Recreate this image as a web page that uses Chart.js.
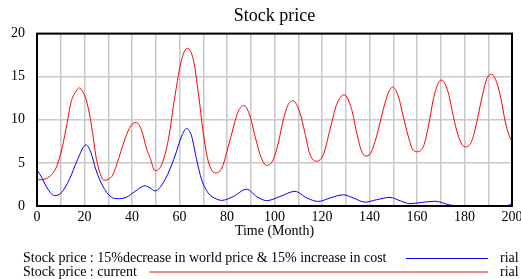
<!DOCTYPE html>
<html>
<head>
<meta charset="utf-8">
<script src="https://cdn.jsdelivr.net/npm/chart.js@4/dist/chart.umd.min.js"></script>
<style>
  body { margin: 0; background: #fff; }
  #wrap { position: relative; width: 521px; height: 279px; overflow: hidden;
          font-family: 'Liberation Serif', 'Times New Roman', serif; }
  .lg { position: absolute; font-size: 14px; line-height: 16px; white-space: nowrap; color: #000; }
  .ln { position: absolute; }
</style>
</head>
<body>
<div id="wrap">
  <canvas id="c" width="521" height="279"></canvas>
  <div class="lg" style="left:23px;top:250px">Stock price : 15%decrease in world price &amp; 15% increase in cost</div>
  <div class="ln" style="left:406px;top:258px;width:82px;height:1px;background:#0000ff"></div>
  <div class="lg" style="left:500px;top:250px">rial</div>
  <div class="lg" style="left:23px;top:264px">Stock price : current</div>
  <div class="ln" style="left:149px;top:271px;width:339px;height:2px;background:#f58a8a"></div>
  <div class="lg" style="left:500px;top:264px">rial</div>
</div>
<script>
const serif = "'Liberation Serif', 'Times New Roman', serif";

// values (month, rial)
const blueMonths = [0, 2, 3.8, 5.5, 7.3, 10.1, 13.6, 17.1, 20.6, 22.7, 24.8, 27.7, 31.2, 34, 37.5,
  41.3, 45.5, 47.6, 49.7, 53.9, 58.1, 60.9, 63, 65.1, 67.2, 69.3, 72.1, 75.7, 77.8, 82.6,
  88.3, 92.5, 96.7, 102.3, 108.6, 113.6, 118.5, 123.4, 129, 133.2, 138.1, 143, 148.6, 153,
  157, 162, 167.6, 171, 173.9, 178, 185, 195, 198, 200];
const blueValues = [4.2, 3.3, 2.3, 1.6, 1.2, 1.5, 3.06, 5.4, 7.1, 6.2, 4.2, 2.3, 1.05, 0.85, 1.0,
  1.7, 2.35, 2.1, 1.75, 3.06, 5.8, 8.1, 9.0, 8.1, 5.4, 3.06, 1.5, 0.8, 0.65, 1.1,
  1.95, 1.1, 0.62, 1.1, 1.7, 0.93, 0.53, 0.93, 1.3, 0.93, 0.45, 0.73, 1.0, 0.6,
  0.27, 0.42, 0.55, 0.35, 0.1, 0.04, 0.02, 0.02, 0.05, 0.3];

const redMonths = [0, 2, 4, 6, 8, 10.1, 12.2, 14.3, 16.4, 17.8, 19.2, 20.6, 22, 23.4, 24.8, 27,
  28.4, 30, 31.9, 34.7, 37.2, 39.5, 41.7, 44, 46.2, 47.6, 49.7, 52.5, 55.3, 58.1, 60.9, 63.3,
  65.8, 67.9, 70, 72.1, 74.9, 77.8, 81.3, 84.8, 87.3, 89.7, 91.8, 93.9, 95.5, 96.7, 99.5,
  101.6, 103.7, 105.8, 107.9, 110.7, 112.8, 114.9, 117.8, 120.6, 123.4, 126.2, 129.3, 132.5,
  134.6, 136.7, 138.5, 140.2, 143, 145.8, 147.9, 149.8, 152.1, 154.2, 156.3, 157.8, 159.9,
  162.7, 164.8, 166.9, 169, 170.4, 173.2, 175.3, 177.4, 180.2, 183, 185.1, 187.2, 189.3,
  191.4, 193.6, 195.7, 197.1, 199.2, 200];
const redValues = [3.05, 3.05, 3.2, 3.6, 4.4, 6.2, 8.9, 12.0, 13.3, 13.7, 13.3, 12.4, 10.8, 8.5, 5.8, 3.45,
  2.98, 3.1, 3.6, 5.8, 7.9, 9.3, 9.7, 8.8, 6.6, 5.6, 4.1, 4.8, 7.7, 12.8, 17.0, 18.3,
  17.0, 13.2, 8.5, 5.2, 3.85, 4.4, 7.7, 11.0, 11.65, 10.4, 8.1, 6.0, 5.0, 4.7, 5.4,
  7.3, 10.0, 11.8, 12.2, 10.8, 8.5, 6.0, 5.2, 6.0, 8.9, 11.8, 12.9, 11.2,
  8.5, 6.35, 5.8, 6.0, 8.1, 11.2, 13.1, 13.8, 12.75, 10.4, 8.1, 6.75, 6.3,
  6.9, 9.25, 12.4, 14.3, 14.6, 13.1, 10.4, 8.1, 6.86, 7.5, 9.65, 12.4, 14.7,
  15.3, 14.3, 12.0, 9.85, 7.9, 7.6];

const xMin = 0, xMax = 200, xStep = 10;
const yMin = 0, yMax = 20, yStep = 5;

const toPoints = (xs, ys) => xs.map((x, i) => ({ x, y: ys[i] }));

// black frame round the plot area
const frame = {
  id: 'frame',
  afterDraw(chart) {
    const { ctx, chartArea: a } = chart;
    ctx.save();
    ctx.strokeStyle = '#000';
    ctx.lineWidth = 2;
    ctx.strokeRect(a.left, a.top, a.right - a.left, a.bottom - a.top);
    ctx.restore();
  }
};

new Chart(document.getElementById('c').getContext('2d'), {
  type: 'line',
  data: {
    datasets: [
      { label: 'Stock price : 15%decrease in world price & 15% increase in cost',
        data: toPoints(blueMonths, blueValues), borderColor: '#0000ff', borderWidth: 1,
        pointRadius: 0, cubicInterpolationMode: 'monotone' },
      { label: 'Stock price : current',
        data: toPoints(redMonths, redValues), borderColor: '#ff0000', borderWidth: 1,
        pointRadius: 0, cubicInterpolationMode: 'monotone' }
    ]
  },
  options: {
    responsive: false,
    animation: false,
    layout: { padding: { left: 0, right: 9, top: 0, bottom: 33 } },
    plugins: {
      legend: { display: false },
      tooltip: { enabled: false },
      title: {
        display: true, text: 'Stock price', fullSize: false, color: '#000',
        font: { family: serif, size: 18, weight: 'normal' },
        padding: { top: 5, bottom: 7 }
      }
    },
    scales: {
      x: {
        type: 'linear', min: xMin, max: xMax,
        ticks: {
          stepSize: xStep, autoSkip: false, maxRotation: 0, padding: 3, color: '#000',
          font: { family: serif, size: 14 },
          callback: (v) => (v % 20 === 0 ? v : '')
        },
        grid: { color: '#c8c8c8', lineWidth: 1.5, drawTicks: false },
        border: { display: false },
        title: {
          display: true, text: 'Time (Month)', color: '#000',
          font: { family: serif, size: 14 }, padding: { top: 0, bottom: 6 }
        },
        afterFit: (s) => { s.height = 40; s.paddingLeft = 0; s.paddingRight = 0; }
      },
      y: {
        min: yMin, max: yMax,
        ticks: { stepSize: yStep, padding: 12, color: '#000', font: { family: serif, size: 14 } },
        grid: { color: '#c8c8c8', lineWidth: 1.5, drawTicks: false },
        border: { display: false },
        afterFit: (s) => { s.width = 37; }
      }
    }
  },
  plugins: [frame]
});
</script>
</body>
</html>
